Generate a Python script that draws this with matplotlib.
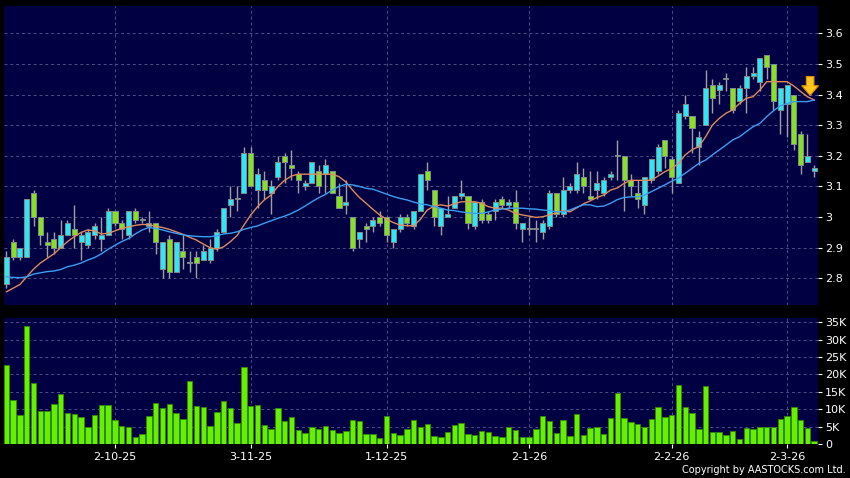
import matplotlib
matplotlib.use('Agg')
import matplotlib.pyplot as plt
import numpy as np

# daily candles, index 0 .. 119 (trading days)
opens = [2.78, 2.92, 2.87, 2.87, 3.08, 3.00, 2.92, 2.93, 2.90, 2.94,
         2.96, 2.92, 2.91, 2.94, 2.93, 2.94, 3.02, 2.98, 2.94, 3.02,
         2.99, 2.97, 2.98, 2.83, 2.93, 2.82, 2.89, 2.85, 2.87, 2.86,
         2.86, 2.90, 2.95, 3.04, 3.06, 3.08, 3.21, 3.09, 3.12, 3.08,
         3.13, 3.20, 3.17, 3.14, 3.10, 3.11, 3.15, 3.14, 3.15, 3.07,
         3.04, 3.00, 2.93, 2.97, 2.97, 3.00, 3.00, 2.92, 2.96, 3.00,
         2.97, 3.02, 3.15, 3.09, 2.97, 3.00, 3.03, 3.07, 3.07, 2.97,
         3.05, 3.01, 3.02, 3.06, 3.04, 3.05, 2.96, 2.96, 2.96, 2.95,
         2.97, 3.08, 3.01, 3.09, 3.09, 3.13, 3.07, 3.09, 3.08, 3.13,
         3.20, 3.20, 3.12, 3.08, 3.04, 3.12, 3.15, 3.25, 3.19, 3.11,
         3.33, 3.33, 3.23, 3.30, 3.43, 3.415, 3.45, 3.42, 3.38, 3.42,
         3.46, 3.44, 3.53, 3.50, 3.35, 3.37, 3.40, 3.27, 3.18, 3.15]
highs = [2.89, 2.93, 2.90, 3.06, 3.09, 3.00, 2.95, 2.95, 2.99, 2.99,
         3.04, 2.95, 2.96, 2.98, 3.00, 3.03, 3.02, 2.99, 3.02, 3.03,
         3.00, 3.02, 2.98, 2.92, 2.94, 2.92, 2.94, 2.89, 2.89, 2.91,
         2.93, 2.96, 3.03, 3.10, 3.10, 3.23, 3.23, 3.16, 3.15, 3.12,
         3.20, 3.21, 3.22, 3.15, 3.12, 3.18, 3.17, 3.19, 3.15, 3.11,
         3.12, 3.00, 2.95, 2.98, 3.00, 3.02, 3.00, 2.96, 3.01, 3.01,
         3.02, 3.14, 3.18, 3.09, 3.03, 3.07, 3.07, 3.12, 3.07, 3.05,
         3.06, 3.02, 3.06, 3.07, 3.06, 3.09, 2.98, 3.00, 2.99, 2.99,
         3.09, 3.08, 3.13, 3.11, 3.18, 3.16, 3.15, 3.15, 3.13, 3.15,
         3.25, 3.20, 3.14, 3.12, 3.13, 3.19, 3.24, 3.25, 3.20, 3.35,
         3.40, 3.33, 3.28, 3.48, 3.45, 3.44, 3.47, 3.42, 3.43, 3.49,
         3.49, 3.52, 3.53, 3.50, 3.42, 3.43, 3.40, 3.28, 3.27, 3.17]
lows = [2.77, 2.86, 2.86, 2.87, 2.97, 2.91, 2.87, 2.88, 2.90, 2.94,
        2.90, 2.86, 2.90, 2.93, 2.89, 2.94, 2.97, 2.93, 2.93, 2.98,
        2.98, 2.95, 2.88, 2.80, 2.80, 2.82, 2.83, 2.82, 2.80, 2.86,
        2.85, 2.89, 2.95, 3.00, 3.02, 3.08, 3.10, 3.03, 3.06, 3.01,
        3.12, 3.11, 3.12, 3.08, 3.09, 3.11, 3.08, 3.08, 3.08, 3.03,
        3.01, 2.89, 2.90, 2.92, 2.95, 2.97, 2.92, 2.90, 2.95, 2.97,
        2.96, 3.02, 3.09, 2.97, 2.94, 3.00, 3.03, 3.06, 2.96, 2.96,
        2.98, 2.98, 2.99, 3.03, 3.03, 2.96, 2.92, 2.94, 2.92, 2.93,
        2.96, 3.00, 3.00, 3.08, 3.08, 3.08, 3.06, 3.06, 3.07, 3.12,
        3.12, 3.02, 3.07, 3.03, 3.01, 3.11, 3.14, 3.16, 3.08, 3.11,
        3.32, 3.21, 3.17, 3.30, 3.34, 3.37, 3.41, 3.34, 3.37, 3.34,
        3.45, 3.41, 3.45, 3.35, 3.27, 3.26, 3.22, 3.14, 3.18, 3.13]
closes = [2.87, 2.87, 2.90, 3.06, 3.00, 2.94, 2.91, 2.90, 2.94, 2.98,
          2.94, 2.94, 2.95, 2.97, 2.94, 3.02, 2.98, 2.96, 3.02, 2.99,
          2.99, 2.98, 2.92, 2.92, 2.82, 2.92, 2.87, 2.85, 2.85, 2.89,
          2.90, 2.95, 3.03, 3.06, 3.06, 3.21, 3.10, 3.14, 3.09, 3.10,
          3.18, 3.18, 3.16, 3.12, 3.11, 3.18, 3.10, 3.17, 3.08, 3.03,
          3.05, 2.90, 2.95, 2.96, 2.99, 2.98, 2.94, 2.96, 3.00, 2.98,
          3.02, 3.14, 3.12, 3.00, 3.03, 3.01, 3.07, 3.08, 2.98, 3.05,
          2.99, 2.99, 3.05, 3.04, 3.05, 2.98, 2.98, 2.96, 2.96, 2.98,
          3.08, 3.01, 3.09, 3.10, 3.14, 3.10, 3.06, 3.11, 3.12, 3.14,
          3.20, 3.12, 3.10, 3.06, 3.13, 3.19, 3.23, 3.20, 3.13, 3.34,
          3.37, 3.29, 3.26, 3.42, 3.39, 3.43, 3.45, 3.35, 3.42, 3.46,
          3.47, 3.52, 3.49, 3.38, 3.42, 3.43, 3.24, 3.17, 3.20, 3.16]

# volume in thousands
volume_k = [22.7, 12.5, 8.4, 34.0, 17.4, 9.6, 9.4, 11.4, 14.5, 9.0,
            8.7, 7.7, 4.9, 8.2, 11.2, 11.2, 6.9, 5.3, 4.9, 2.1,
            2.9, 8.0, 11.9, 10.2, 11.4, 8.9, 7.3, 18.0, 11.0, 10.5,
            5.1, 9.3, 12.4, 10.4, 6.0, 22.2, 10.9, 11.2, 5.5, 4.4,
            10.2, 6.7, 7.7, 3.9, 3.3, 4.9, 4.4, 5.1, 3.9, 3.3,
            3.6, 6.9, 6.5, 3.0, 3.0, 1.8, 8.1, 3.2, 2.5, 4.4,
            6.9, 5.0, 5.7, 2.4, 2.1, 3.4, 5.6, 6.1, 2.8, 2.7,
            3.7, 3.4, 2.3, 1.9, 4.8, 4.1, 2.1, 2.1, 4.4, 8.0,
            6.5, 3.1, 6.9, 2.3, 8.7, 2.7, 4.6, 5.0, 3.0, 7.4,
            14.6, 7.5, 6.3, 5.7, 5.0, 7.3, 10.5, 7.8, 8.3, 16.9,
            10.6, 9.0, 4.4, 16.8, 3.4, 3.4, 2.7, 3.6, 1.5, 4.6,
            4.4, 5.0, 4.8, 4.8, 7.2, 8.0, 10.7, 7.0, 4.5, 1.0]

# moving averages as drawn on the chart
ma_short = [2.756, 2.768, 2.78, 2.805, 2.83, 2.85, 2.865, 2.88, 2.90, 2.92,
            2.936, 2.95, 2.958, 2.955, 2.945, 2.947, 2.955, 2.963, 2.968, 2.973,
            2.976, 2.975, 2.97, 2.966, 2.96, 2.952, 2.944, 2.934, 2.925, 2.912,
            2.90, 2.895, 2.903, 2.92, 2.94, 2.974, 3.007, 3.034, 3.056, 3.072,
            3.10, 3.12, 3.134, 3.14, 3.14, 3.14, 3.14, 3.14, 3.14, 3.132,
            3.115, 3.088, 3.064, 3.045, 3.025, 3.007, 2.993, 2.982, 2.974, 2.972,
            2.971, 2.993, 3.023, 3.036, 3.04, 3.036, 3.043, 3.05, 3.05, 3.05,
            3.045, 3.034, 3.029, 3.029, 3.023, 3.012, 3.007, 3.003, 2.999, 3.001,
            3.007, 3.014, 3.021, 3.017, 3.03, 3.043, 3.053, 3.064, 3.072, 3.088,
            3.095, 3.11, 3.12, 3.12, 3.12, 3.12, 3.134, 3.148, 3.159, 3.175,
            3.203, 3.22, 3.23, 3.262, 3.30, 3.322, 3.339, 3.35, 3.371, 3.388,
            3.393, 3.415, 3.442, 3.442, 3.442, 3.442, 3.428, 3.41, 3.393, 3.382]
ma_long = [2.805, 2.803, 2.802, 2.805, 2.814, 2.818, 2.822, 2.824, 2.829, 2.838,
           2.843, 2.85, 2.86, 2.868, 2.88, 2.895, 2.908, 2.92, 2.93, 2.945,
           2.958, 2.966, 2.963, 2.958, 2.952, 2.947, 2.942, 2.939, 2.937, 2.936,
           2.936, 2.939, 2.945, 2.947, 2.952, 2.96, 2.966, 2.971, 2.98, 2.988,
           2.996, 3.003, 3.012, 3.023, 3.036, 3.05, 3.063, 3.074, 3.088, 3.10,
           3.107, 3.105, 3.10, 3.094, 3.091, 3.083, 3.075, 3.067, 3.061, 3.056,
           3.049, 3.043, 3.04, 3.034, 3.029, 3.023, 3.021, 3.017, 3.014, 3.012,
           3.012, 3.017, 3.023, 3.026, 3.029, 3.029, 3.029, 3.027, 3.026, 3.023,
           3.021, 3.017, 3.017, 3.023, 3.032, 3.04, 3.04, 3.034, 3.036, 3.045,
           3.057, 3.064, 3.066, 3.066, 3.072, 3.083, 3.094, 3.105, 3.117, 3.127,
           3.143, 3.159, 3.175, 3.186, 3.203, 3.219, 3.235, 3.252, 3.262, 3.279,
           3.295, 3.306, 3.328, 3.347, 3.363, 3.371, 3.377, 3.377, 3.377, 3.382]

date_pos = [16, 36, 56, 77, 98, 115]
date_labels = ['2-10-25', '3-11-25', '1-12-25', '2-1-26', '2-2-26', '2-3-26']
price_ticks = [2.8, 2.9, 3.0, 3.1, 3.2, 3.3, 3.4, 3.5, 3.6]
price_labels = ['2.8', '2.9', '3', '3.1', '3.2', '3.3', '3.4', '3.5', '3.6']
vol_ticks = [0, 5, 10, 15, 20, 25, 30, 35]
vol_labels = ['0', '5K', '10K', '15K', '20K', '25K', '30K', '35K']

UP = '#2CE8F6'
DOWN = '#86E21E'
BG = '#000042'
GRID = '#4e4e88'

x = np.arange(len(closes))
o = np.array(opens)
c = np.array(closes)

fig = plt.figure(figsize=(8.5, 4.78), dpi=100, facecolor='black')
ax = fig.add_axes([4 / 850, 1 - 305 / 478, 814 / 850, 299 / 478])
axv = fig.add_axes([4 / 850, 1 - 444 / 478, 814 / 850, 126 / 478], sharex=ax)

for a in (ax, axv):
    a.set_facecolor(BG)
    for s in a.spines.values():
        s.set_visible(False)
    a.grid(True, color=GRID, ls=(0, (3, 3)), lw=0.7)
    a.set_axisbelow(True)
    a.yaxis.tick_right()
    a.tick_params(axis='y', colors='white', labelsize=8, length=3, pad=2, width=0.8)

# candles
ax.vlines(x, lows, highs, color='#a0a0a0', lw=1, zorder=2)
body_lo = np.minimum(o, c)
body_h = np.maximum(np.abs(c - o), 0.003)
colors = [UP if cc > oo else (DOWN if cc < oo else '#a0a0a0') for oo, cc in zip(o, c)]
ax.bar(x, body_h, bottom=body_lo, width=0.74, color=colors,
       edgecolor='#7f8c8c', lw=0.7, zorder=3)

ax.plot(x, ma_short, color='#E08A5C', lw=1.0, zorder=4)
ax.plot(x, ma_long, color='#3A9FF0', lw=1.0, zorder=4)

ax.annotate('', xy=(118.4, 3.388), xytext=(118.4, 3.468),
            arrowprops=dict(arrowstyle='simple,head_length=0.7,head_width=1.2,tail_width=0.55',
                            fc='#FFC61E', ec='#E08A00', lw=0.8), zorder=6)

ax.set_xlim(-0.35, 119.56)
ax.set_ylim(2.713, 3.689)
ax.set_yticks(price_ticks)
ax.set_yticklabels(price_labels)
ax.set_xticks(date_pos)
ax.tick_params(axis='x', length=0, labelbottom=False)

# volume
axv.bar(x, volume_k, width=0.8, color='#66F000', edgecolor='#2E8A00', lw=0.6, zorder=3)
axv.set_ylim(0, 36.2)
axv.set_yticks(vol_ticks)
axv.set_yticklabels(vol_labels)
axv.set_xticks(date_pos)
axv.set_xticklabels(date_labels)
axv.tick_params(axis='x', colors='white', labelsize=8, length=3, pad=3, width=0.8)

fig.text(846 / 850, 3 / 478, 'Copyright by AASTOCKS.com Ltd.', ha='right', va='bottom',
         color='white', fontsize=7)

fig.savefig('out.png', dpi=100, facecolor='black')
